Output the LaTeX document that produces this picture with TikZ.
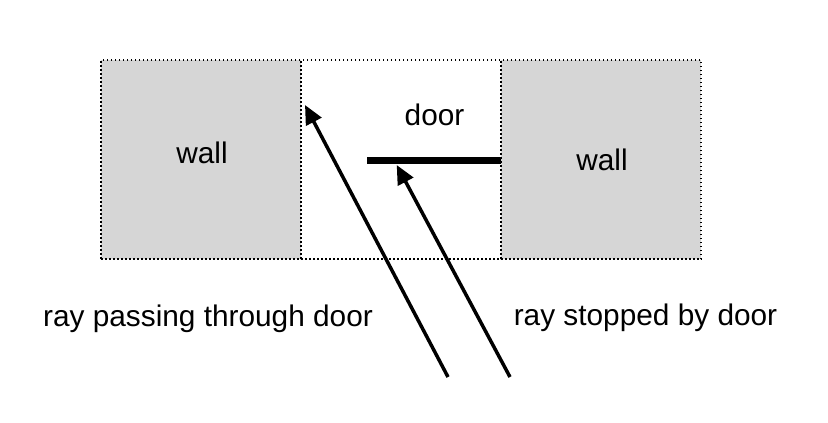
\documentclass[tikz,border=0pt]{standalone}
\usepackage{fontspec}
\setmainfont{Liberation Sans}
\usetikzlibrary{arrows.meta}
\definecolor{wallgray}{RGB}{214,214,214}
\begin{document}
\begin{tikzpicture}[x=1bp,y=-1bp]
\tikzset{
  zone/.style={draw=black, line width=1.4bp, dash pattern=on 1.5bp off 2.5bp,
    minimum width=200bp, minimum height=199bp, anchor=north west,
    inner sep=0, outer sep=0},
  lbl/.style={font=\fontsize{29.8bp}{34bp}\selectfont, anchor=base, inner sep=0},
  ray/.style={line width=3.5bp, -{Triangle[length=19bp,width=17bp]}},
  doorbar/.style={line width=7bp},
}
\useasboundingbox[fill=white] (0,0) rectangle (828,422);
\node[zone, fill=wallgray] (lw) at (101,60) {};
\node[zone, fill=white] (gap) at (301,60) {};
\node[zone, fill=wallgray] (rw) at (501,60) {};
\node[lbl] (lwt) at (202,163) {wall};
\node[lbl] (rwt) at (602,170) {wall};
\node[lbl] (dt) at (434.5,125) {door};
\node[lbl] (l1) at (208,326) {ray passing through door};
\node[lbl] (l2) at (645.5,325) {ray stopped by door};
\coordinate (d1) at (367,160.3);
\coordinate (d2) at (501,160.3);
\draw[doorbar] (d1) -- (d2);
\coordinate (t1) at (448,377);
\coordinate (h1) at (305,105);
\coordinate (t2) at (510,377);
\coordinate (h2) at (396.7,165);
\draw[ray] (t1) -- (h1);
\draw[ray] (t2) -- (h2);
\end{tikzpicture}
\end{document}
